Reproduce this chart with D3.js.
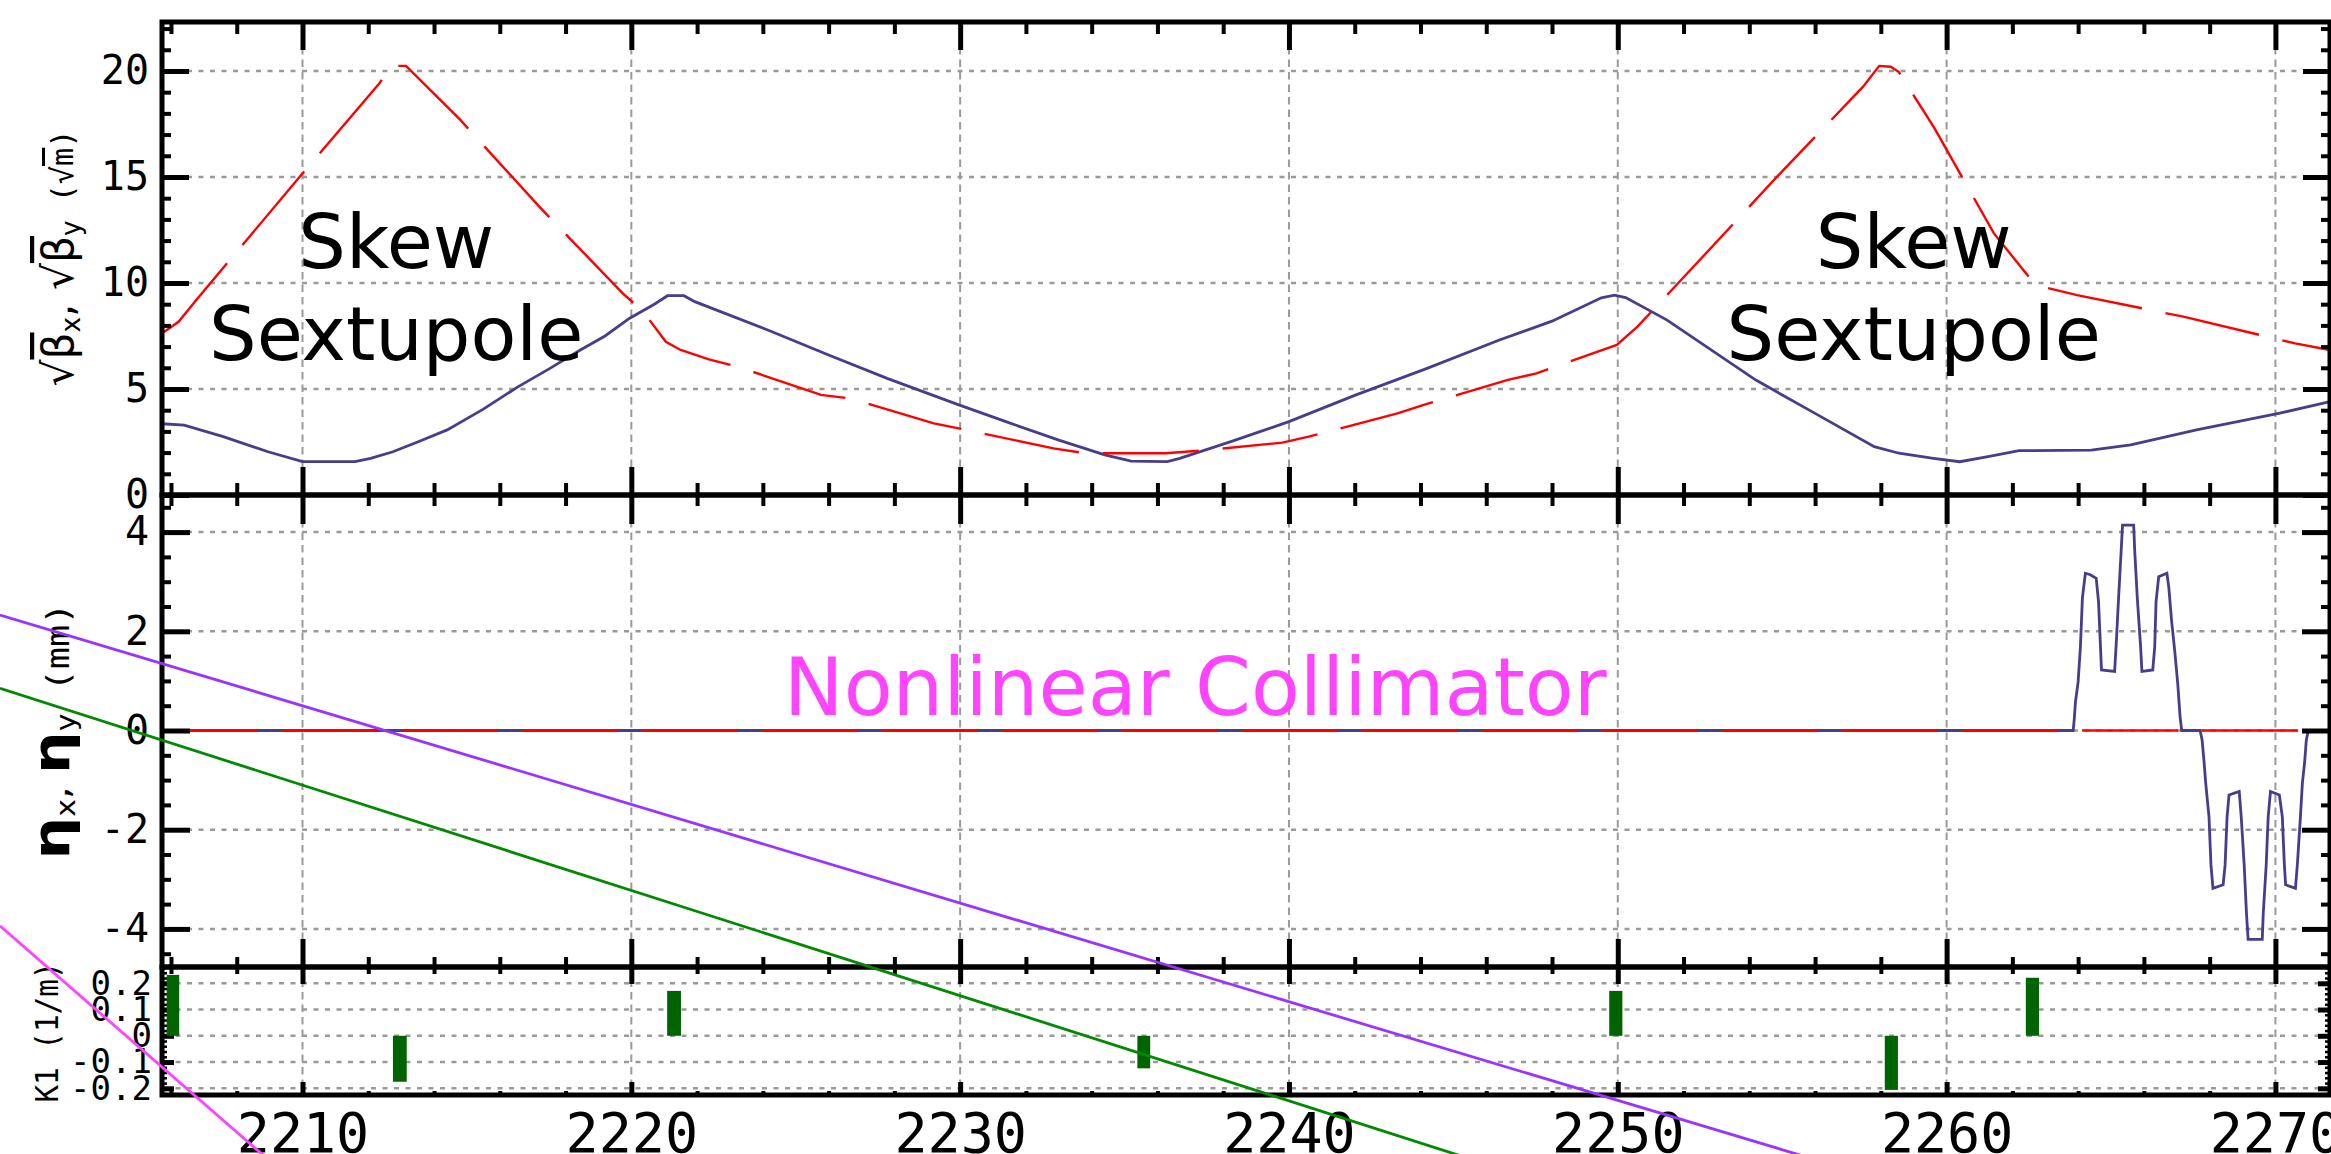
<!DOCTYPE html>
<html>
<head>
<meta charset="utf-8">
<script src="https://cdn.jsdelivr.net/npm/d3@7"></script>
<style>
  html, body { margin: 0; padding: 0; background: #fff; }
  svg { display: block; }
</style>
</head>
<body>
<svg id="chart" width="2331" height="1154"></svg>
<script>
// ---------- lattice functions along s (m) ----------
const betaXS = [2205.73, 2206.4, 2207.59, 2208.95, 2210.0, 2211.6, 2212.07, 2212.75, 2213.5, 2214.4, 2215.5,
  2216.55, 2217.5, 2218.45, 2219.2, 2219.95, 2220.7, 2221.1, 2221.6, 2221.93, 2224.28, 2226.0, 2227.78,
  2229.96, 2231.5, 2233.0, 2234.4, 2235.2, 2236.3, 2236.68, 2238.3, 2240.0, 2242.0, 2244.2, 2246.4, 2248.0,
  2249.5, 2249.9, 2250.24, 2251.5, 2254.2, 2256.0, 2257.8, 2258.55, 2259.6, 2260.4, 2261.26, 2262.2, 2264.4,
  2265.6, 2267.6, 2270.1, 2271.66];
const sqrtBetaX = [3.36, 3.3, 2.75, 2.04, 1.57, 1.57, 1.73, 2.04, 2.5, 3.07, 4.05,
  5.1, 5.95, 6.84, 7.5, 8.34, 9.0, 9.4, 9.4, 9.12, 7.7, 6.6, 5.5,
  4.25, 3.4, 2.59, 1.89, 1.6, 1.57, 1.73, 2.55, 3.46, 4.7, 5.97, 7.31, 8.2,
  9.3, 9.43, 9.31, 8.25, 5.42, 3.85, 2.28, 1.97, 1.73, 1.57, 1.81, 2.09, 2.12,
  2.36, 3.07, 3.85, 4.4];

const betaYS = [2205.73, 2206.23, 2206.77, 2209.96, 2212.34, 2212.7, 2213.15, 2214.8, 2217.2, 2219.74,
  2220.36, 2221.05, 2221.5, 2222.36, 2223.24, 2225.77, 2226.64, 2229.2, 2229.96, 2232.84, 2233.8, 2236.25,
  2237.3, 2239.8, 2240.6, 2243.3, 2244.1, 2246.63, 2247.53, 2249.97, 2250.6, 2252.4, 2254.94, 2257.46,
  2257.95, 2258.3, 2258.55, 2259.63, 2261.44, 2262.7, 2263.97, 2267.2, 2270.6, 2271.66];
const sqrtBetaY = [7.63, 8.17, 9.2, 15.09, 19.42, 20.24, 20.24, 17.69, 13.6, 9.51,
  8.65, 7.23, 6.84, 6.4, 6.05, 4.72, 4.56, 3.38, 3.14, 2.2, 1.97, 1.97,
  2.09, 2.47, 2.75, 3.85, 4.25, 5.42, 5.74, 7.08, 7.94, 10.93, 15.17, 19.26,
  20.24, 20.2, 19.95, 17.3, 12.34, 9.9, 9.43, 8.41, 7.15, 6.84];

// horizontal dispersion (mm)
const etaXS = [2205.73, 2263.85, 2263.88, 2263.92, 2264.0, 2264.07, 2264.13, 2264.22, 2264.37, 2264.55,
  2264.62, 2264.68, 2264.71, 2265.11, 2265.17, 2265.23, 2265.31, 2265.35, 2265.69, 2265.72, 2265.8, 2265.9,
  2265.94, 2266.27, 2266.33, 2266.37, 2266.45, 2266.7, 2266.76, 2266.84, 2266.94, 2267.03, 2267.1, 2267.15,
  2267.71, 2267.77, 2267.83, 2267.88, 2267.98, 2268.04, 2268.1, 2268.41, 2268.47, 2268.53, 2268.59, 2268.9,
  2268.96, 2269.05, 2269.12, 2269.17, 2269.6, 2269.63, 2269.72, 2269.78, 2269.85, 2270.12, 2270.21, 2270.27,
  2270.31, 2270.61, 2270.67, 2270.76, 2270.82, 2270.89, 2270.94, 2271.0, 2271.66];
const etaX = [0, 0, 0.21, 0.58, 0.98, 1.69, 2.67, 3.17, 3.14, 3.07,
  2.6, 1.69, 1.22, 1.19, 1.89, 2.67, 3.64, 4.14, 4.14, 3.64, 2.67, 1.69,
  1.19, 1.22, 1.69, 2.6, 3.1, 3.17, 2.87, 2.23, 1.59, 0.94, 0.28, 0,
  0, -0.19, -0.63, -1.06, -1.74, -2.71, -3.18, -3.11, -2.71, -1.74, -1.3, -1.23,
  -1.74, -2.71, -3.69, -4.21, -4.21, -3.69, -2.71, -1.74, -1.23, -1.3, -1.74, -2.68,
  -3.11, -3.18, -2.68, -1.74, -1.06, -0.63, -0.19, 0, 0];

// vertical dispersion (mm)
const etaYS = [2205.73, 2271.66];
const etaY = [0, 0];

// quadrupoles: start (m), length (m), K1 (1/m)
const quadS = [2205.87, 2212.75, 2221.09, 2235.39, 2249.74, 2258.12, 2262.41];
const quadL = [0.38, 0.42, 0.42, 0.39, 0.40, 0.40, 0.40];
const quadK1 = [0.232, -0.175, 0.171, -0.124, 0.171, -0.206, 0.221];

// tick values
const sTicks = [2210, 2220, 2230, 2240, 2250, 2260, 2270];
const betaTicks = [0, 5, 10, 15, 20];
const etaTicks = [-4, -2, 0, 2, 4];
const k1Ticks = [-0.2, -0.1, 0, 0.1, 0.2];
const k1Labels = ["-0.2", "-0.1", "0", "0.1", "0.2"];

// straight guide lines, given by end points in (s, eta) units
const guideColors = ["#9933ff", "#008a00", "#ff44ff"];
const guideS = [[2200.80, 2256.45], [2200.80, 2246.42], [2200.80, 2209.01]];
const guideEta = [[2.329, -8.74], [0.851, -8.83], [-3.94, -8.68]];

// text labels
const noteText = ["Skew", "Sextupole", "Skew", "Sextupole"];
const noteS = [2212.85, 2212.85, 2259.0, 2259.0];
const noteBeta = [10.71, 6.37, 10.71, 6.37];

// ---------- drawing ----------
const svg = d3.select("#chart");
const MONO = "DejaVu Sans Mono, monospace";
const SANS = "DejaVu Sans, sans-serif";
const L = 162, R = 2330;

svg.append("rect").attr("width", 2331).attr("height", 1154).attr("fill", "#fff");

const x = d3.scaleLinear().domain([2205.727, 2271.66]).range([L, R]);
const yB = d3.scaleLinear().domain([0, 22.31]).range([495, 22]);
const yE = d3.scaleLinear().domain([-4.768, 4.748]).range([967, 495]);
const yK = d3.scaleLinear().domain([-0.2255, 0.262]).range([1095, 967]);

const sMinor = d3.range(2206, 2272, 2).filter(v => v % 10 !== 0);

function grid(y, yMajor) {
  const [b, t] = y.range();
  const g = svg.append("g");
  g.selectAll("line.h").data(yMajor).join("line").attr("class", "h")
    .attr("x1", L + 2).attr("x2", R - 2)
    .attr("y1", d => y(d)).attr("y2", d => y(d))
    .attr("stroke", "#9a9a9a").attr("stroke-width", 2.5).attr("stroke-dasharray", "5,6.5");
  g.selectAll("line.v").data(sTicks).join("line").attr("class", "v")
    .attr("x1", d => x(d)).attr("x2", d => x(d))
    .attr("y1", t).attr("y2", b)
    .attr("stroke", "#9a9a9a").attr("stroke-width", 2).attr("stroke-dasharray", "7.5,5");
}

function axis(gen, transform, width) {
  const g = svg.append("g").attr("transform", transform).call(gen);
  g.select(".domain").remove();
  g.selectAll(".tick line").attr("stroke", "#000").attr("stroke-width", width);
  return g;
}

function frame(y, c) {
  const [b, t] = y.range();
  // left / right ticks
  const lab = axis(d3.axisLeft(y).tickValues(c.yMajor).tickSize(-c.yMaj).tickPadding(c.pad)
      .tickFormat(c.fmt), `translate(${L},0)`, 5);
  lab.attr("font-family", MONO).attr("font-size", c.fs);
  lab.selectAll("text").attr("fill", "#000");
  axis(d3.axisLeft(y).tickValues(c.yMinor).tickSize(-c.yMin).tickFormat(""), `translate(${L},0)`, c.minW);
  axis(d3.axisRight(y).tickValues(c.yMajor).tickSize(-c.yMaj).tickFormat(""), `translate(${R},0)`, 5);
  axis(d3.axisRight(y).tickValues(c.yMinor).tickSize(-c.yMin).tickFormat(""), `translate(${R},0)`, c.minW);
  // top / bottom ticks
  axis(d3.axisTop(x).tickValues(sTicks).tickSize(-c.tMaj).tickFormat(""), `translate(0,${t})`, 5);
  axis(d3.axisTop(x).tickValues(sMinor).tickSize(-c.tMin).tickFormat(""), `translate(0,${t})`, 4);
  axis(d3.axisBottom(x).tickValues(sTicks).tickSize(-c.bMaj).tickFormat(""), `translate(0,${b})`, 5);
  axis(d3.axisBottom(x).tickValues(sMinor).tickSize(-c.bMin).tickFormat(""), `translate(0,${b})`, 4);
  // border
  svg.append("rect").attr("x", L).attr("y", t).attr("width", R - L).attr("height", b - t)
    .attr("fill", "none").attr("stroke", "#000").attr("stroke-width", 5);
}

const lineOf = (y) => d3.line().x(d => x(d[0])).y(d => y(d[1]));

// ---- top panel: sqrt(beta) ----
grid(yB, betaTicks);
svg.append("path").datum(d3.zip(betaXS, sqrtBetaX)).attr("d", lineOf(yB))
  .attr("fill", "none").attr("stroke", "#483d8b").attr("stroke-width", 2.8);
svg.append("path").datum(d3.zip(betaYS, sqrtBetaY)).attr("d", lineOf(yB))
  .attr("fill", "none").attr("stroke", "#ff0000").attr("stroke-width", 2.4)
  .attr("stroke-dasharray", "96,24");
frame(yB, {
  yMajor: betaTicks, yMinor: d3.range(1, 23).filter(v => v % 5 !== 0),
  yMaj: 27, yMin: 9, minW: 4, pad: 13, fs: 40, fmt: d => String(d),
  tMaj: 28, tMin: 12, bMaj: 28, bMin: 12
});

// ---- middle panel: dispersion ----
grid(yE, etaTicks);
svg.append("path").datum(d3.zip(etaXS, etaX)).attr("d", lineOf(yE))
  .attr("fill", "none").attr("stroke", "#483d8b").attr("stroke-width", 2.8);
svg.append("path").datum(d3.zip(etaYS, etaY)).attr("d", lineOf(yE))
  .attr("fill", "none").attr("stroke", "#ff0000").attr("stroke-width", 2.6)
  .attr("stroke-dasharray", "96,24");
frame(yE, {
  yMajor: etaTicks, yMinor: d3.range(-4.5, 4.6, 0.5).filter(v => v % 2 !== 0),
  yMaj: 28, yMin: 9, minW: 4, pad: 13, fs: 40, fmt: d => String(d),
  tMaj: 29, tMin: 11, bMaj: 28, bMin: 10
});

// ---- bottom panel: quadrupole strengths ----
grid(yK, k1Ticks);
frame(yK, {
  yMajor: k1Ticks, yMinor: d3.range(-22, 27, 2).filter(v => v % 10 !== 0).map(v => v / 100),
  yMaj: 12, yMin: 5, minW: 2.5, pad: 10, fs: 34, fmt: (d, i) => k1Labels[i],
  tMaj: 17, tMin: 7, bMaj: 13, bMin: 4
});
svg.append("g").selectAll("rect").data(d3.range(quadS.length)).join("rect")
  .attr("x", i => x(quadS[i]))
  .attr("width", i => x(quadS[i] + quadL[i]) - x(quadS[i]))
  .attr("y", i => yK(Math.max(0, quadK1[i])))
  .attr("height", i => Math.abs(yK(quadK1[i]) - yK(0)))
  .attr("fill", "#006400");

// s-axis labels
const sAx = svg.append("g").attr("transform", `translate(0,${yK.range()[0]})`)
  .call(d3.axisBottom(x).tickValues(sTicks).tickSize(0).tickPadding(18).tickFormat(d3.format("d")));
sAx.select(".domain").remove();
sAx.selectAll(".tick line").remove();
sAx.attr("font-family", MONO).attr("font-size", 55);
sAx.selectAll("text").attr("fill", "#000");

// ---- axis titles ----
const t1 = svg.append("text")
  .attr("transform", "translate(73,258) rotate(-90)")
  .attr("text-anchor", "middle").attr("font-family", SANS).attr("font-size", 42)
  .attr("textLength", 257).attr("lengthAdjust", "spacingAndGlyphs").attr("fill", "#000");
t1.append("tspan").text("√");
t1.append("tspan").style("text-decoration", "overline").text("β");
t1.append("tspan").attr("font-size", 26).attr("dy", 7).text("x");
t1.append("tspan").attr("dy", -7).text(", √");
t1.append("tspan").style("text-decoration", "overline").text("β");
t1.append("tspan").attr("font-size", 26).attr("dy", 7).text("y");
t1.append("tspan").attr("dy", -7).attr("font-family", MONO).attr("font-size", 30).text(" (√");
t1.append("tspan").attr("font-family", MONO).attr("font-size", 30).style("text-decoration", "overline").text("m");
t1.append("tspan").attr("font-family", MONO).attr("font-size", 30).text(")");

const t2 = svg.append("text")
  .attr("transform", "translate(69,731) rotate(-90)")
  .attr("text-anchor", "middle").attr("font-family", SANS).attr("font-size", 52)
  .attr("textLength", 257).attr("lengthAdjust", "spacingAndGlyphs").attr("fill", "#000");
t2.append("tspan").attr("font-weight", "bold").text("η");
t2.append("tspan").attr("font-size", 26).attr("dy", 6).text("x");
t2.append("tspan").attr("dy", -6).attr("font-size", 34).text(", ");
t2.append("tspan").attr("font-weight", "bold").text("η");
t2.append("tspan").attr("font-size", 26).attr("dy", 6).text("y");
t2.append("tspan").attr("dy", -6).attr("font-family", MONO).attr("font-size", 32).text(" (mm)");

svg.append("text")
  .attr("transform", "translate(58,1032) rotate(-90)")
  .attr("text-anchor", "middle").attr("font-family", MONO).attr("font-size", 32)
  .attr("textLength", 141).attr("lengthAdjust", "spacingAndGlyphs").attr("fill", "#000")
  .text("K1 (1/m)");

// ---- annotations ----
svg.append("g").selectAll("text").data(noteText).join("text")
  .attr("x", (d, i) => x(noteS[i])).attr("y", (d, i) => yB(noteBeta[i]))
  .attr("text-anchor", "middle").attr("font-family", SANS).attr("font-size", 75)
  .attr("fill", "#000").text(d => d);

svg.append("text")
  .attr("x", x(2237.15)).attr("y", yE(0.31))
  .attr("text-anchor", "middle").attr("font-family", SANS).attr("font-size", 80)
  .attr("fill", "#ff44ff").text("Nonlinear Collimator");

svg.append("g").selectAll("line").data(guideColors).join("line")
  .attr("x1", (d, i) => x(guideS[i][0])).attr("y1", (d, i) => yE(guideEta[i][0]))
  .attr("x2", (d, i) => x(guideS[i][1])).attr("y2", (d, i) => yE(guideEta[i][1]))
  .attr("stroke", d => d).attr("stroke-width", 2.8);
</script>
</body>
</html>
